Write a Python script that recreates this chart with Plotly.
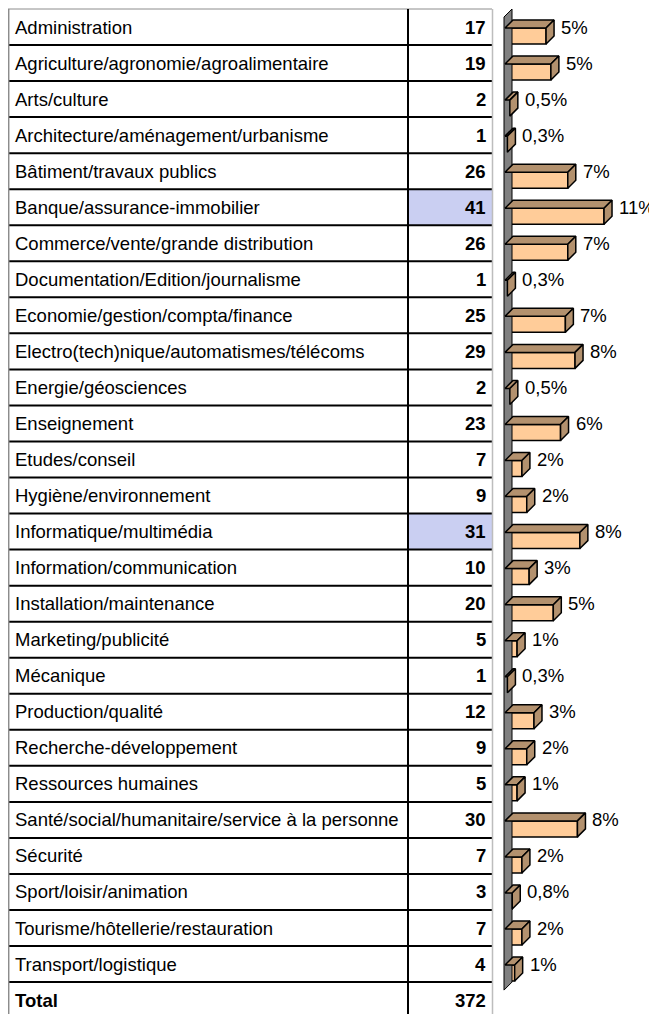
import plotly.graph_objects as go

categories = [
    "Administration",
    "Agriculture/agronomie/agroalimentaire",
    "Arts/culture",
    "Architecture/aménagement/urbanisme",
    "Bâtiment/travaux publics",
    "Banque/assurance-immobilier",
    "Commerce/vente/grande distribution",
    "Documentation/Edition/journalisme",
    "Economie/gestion/compta/finance",
    "Electro(tech)nique/automatismes/télécoms",
    "Energie/géosciences",
    "Enseignement",
    "Etudes/conseil",
    "Hygiène/environnement",
    "Informatique/multimédia",
    "Information/communication",
    "Installation/maintenance",
    "Marketing/publicité",
    "Mécanique",
    "Production/qualité",
    "Recherche-développement",
    "Ressources humaines",
    "Santé/social/humanitaire/service à la personne",
    "Sécurité",
    "Sport/loisir/animation",
    "Tourisme/hôtellerie/restauration",
    "Transport/logistique",
]
counts = [17, 19, 2, 1, 26, 41, 26, 1, 25, 29, 2, 23, 7, 9, 31, 10, 20, 5, 1, 12, 9, 5, 30, 7, 3, 7, 4]
pct_labels = ["5%", "5%", "0,5%", "0,3%", "7%", "11%", "7%", "0,3%", "7%", "8%", "0,5%", "6%", "2%", "2%",
              "8%", "3%", "5%", "1%", "0,3%", "3%", "2%", "1%", "8%", "2%", "0,8%", "2%", "1%"]
total_label = "Total"
total_value = 372
highlighted = ["Banque/assurance-immobilier", "Informatique/multimédia"]

# ---- geometry / style ----
PAGE_W, PAGE_H = 657, 1014
BODY = 8                      # browser body margin
W, H = PAGE_W - BODY, PAGE_H - BODY
ROW_PX = 36.04
FONT = "Liberation Sans, Arial, sans-serif"
FS = 18.5
FRONT = "#FFCC99"
SIDE = "#B3916E"
WALL = "#808080"
n = len(categories)
n_rows = n + 1

def px(x):
    """page pixel -> paper fraction"""
    return (x - BODY) / W

y_top = -0.5 - 1 / ROW_PX
y_bot = y_top + H / ROW_PX

rows = list(range(n))
pct = [c / total_value * 100 for c in counts]

PX_PER_PCT = 8.984
X2_LEFT = 502
x2_0 = -(505 - X2_LEFT) / PX_PER_PCT
x2_1 = x2_0 + (PAGE_W - X2_LEFT) / PX_PER_PCT
dx = 8 / PX_PER_PCT
dy = -8 / ROW_PX
bar_off = 1 / ROW_PX
bar_w = 16 / ROW_PX

fig = go.Figure()

# wall
fig.add_trace(go.Scatter(
    x=[-0.11, -0.11, dx - 0.11, dx - 0.11, -0.11],
    y=[-0.5 - dy, n - 0.5 - dy, n - 0.5, -0.5, -0.5 - dy],
    xaxis="x2", yaxis="y", mode="lines", fill="toself", fillcolor=WALL,
    line=dict(color="#000000", width=1), hoverinfo="skip", showlegend=False))

# front faces
fig.add_trace(go.Bar(
    x=pct, y=rows, orientation="h", xaxis="x2", yaxis="y",
    width=bar_w, offset=bar_off,
    marker=dict(color=FRONT, line=dict(color="#000000", width=1.5)),
    showlegend=False, hoverinfo="skip"))

# top and side faces
tx, ty, sx, sy = [], [], [], []
for i, w in zip(rows, pct):
    y0 = i + bar_off
    y1 = y0 + bar_w
    tx += [0, w, w + dx, dx, 0, None]
    ty += [y0, y0, y0 + dy, y0 + dy, y0, None]
    sx += [w, w, w + dx, w + dx, w, None]
    sy += [y0, y1, y1 + dy, y0 + dy, y0, None]
for xs, ys in ((tx, ty), (sx, sy)):
    fig.add_trace(go.Scatter(
        x=xs, y=ys, xaxis="x2", yaxis="y", mode="lines", fill="toself", fillcolor=SIDE,
        line=dict(color="#000000", width=1.5), hoverinfo="skip", showlegend=False))

shapes = []
annotations = []

# highlighted cells
for i, c in enumerate(categories):
    if c in highlighted:
        shapes.append(dict(type="rect", xref="paper", yref="y", x0=px(408), x1=px(492),
                           y0=i - 0.5, y1=i + 0.5, fillcolor="#CACFF2", line=dict(width=0), layer="below"))

# row separators
for k in range(1, n_rows + 1):
    shapes.append(dict(type="line", xref="paper", yref="y", x0=px(8), x1=px(492),
                       y0=k - 0.5, y1=k - 0.5, line=dict(color="#000000", width=2)))
# outer border top / left / right
shapes.append(dict(type="line", xref="paper", yref="y", x0=px(8), x1=px(492), y0=-0.5, y1=-0.5,
                   line=dict(color="#8C8C8C", width=1)))
shapes.append(dict(type="line", xref="paper", yref="y", x0=px(8.7), x1=px(8.7), y0=-0.5, y1=n_rows,
                   line=dict(color="#8C8C8C", width=1.5)))
shapes.append(dict(type="line", xref="paper", yref="y", x0=px(492.5), x1=px(492.5), y0=-0.5, y1=n_rows,
                   line=dict(color="#BDBDBD", width=1.5)))
# column divider
shapes.append(dict(type="line", xref="paper", yref="y", x0=px(408), x1=px(408), y0=-0.5, y1=n_rows,
                   line=dict(color="#000000", width=2)))

for i, (c, v, lab, p) in enumerate(zip(categories, counts, pct_labels, pct)):
    annotations.append(dict(text=c, xref="paper", yref="y", x=px(13), y=i, xanchor="left", yanchor="middle",
                            showarrow=False, font=dict(family=FONT, size=FS, color="#000000")))
    annotations.append(dict(text=f"<b>{v}</b>", xref="paper", yref="y", x=px(488), y=i, xanchor="right",
                            yanchor="middle", showarrow=False, font=dict(family=FONT, size=FS, color="#000000")))
    annotations.append(dict(text=lab, xref="x2", yref="y", x=p + dx, y=i, xshift=5, xanchor="left",
                            yanchor="middle", showarrow=False, font=dict(family=FONT, size=FS, color="#000000")))

it = n
annotations.append(dict(text=f"<b>{total_label}</b>", xref="paper", yref="y", x=px(13), y=it, xanchor="left",
                        yanchor="middle", showarrow=False, font=dict(family=FONT, size=FS, color="#000000")))
annotations.append(dict(text=f"<b>{total_value}</b>", xref="paper", yref="y", x=px(488), y=it, xanchor="right",
                        yanchor="middle", showarrow=False, font=dict(family=FONT, size=FS, color="#000000")))

fig.update_layout(
    width=W, height=H,
    margin=dict(l=0, r=0, t=0, b=0),
    paper_bgcolor="white", plot_bgcolor="white",
    showlegend=False,
    xaxis=dict(visible=False, range=[0, 1], domain=[0, 1]),
    xaxis2=dict(visible=False, range=[x2_0, x2_1], domain=[px(X2_LEFT), 1], anchor="y"),
    yaxis=dict(visible=False, range=[y_bot, y_top], domain=[0, 1]),
    shapes=shapes, annotations=annotations,
    barmode="overlay",
)

fig.write_html("out.html")
